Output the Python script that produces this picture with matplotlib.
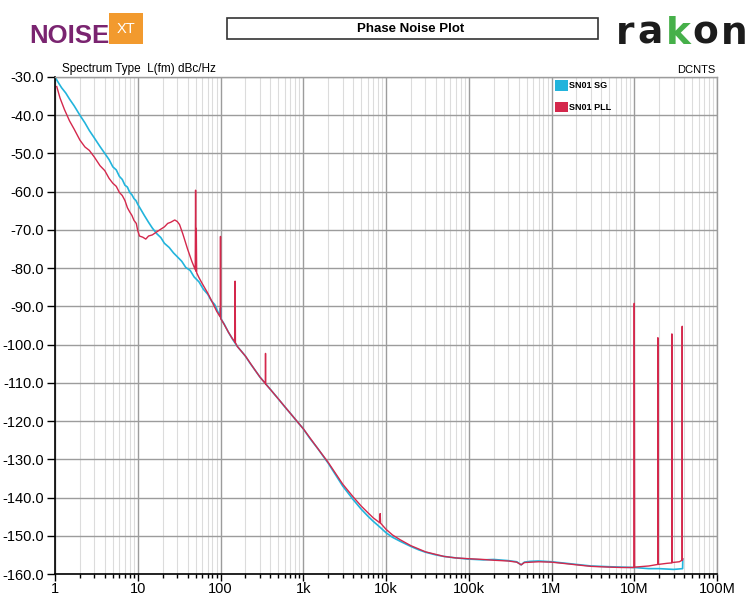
import matplotlib
matplotlib.use('Agg')
import matplotlib.pyplot as plt
from matplotlib.patches import Patch, Rectangle
from matplotlib.ticker import FixedLocator, FixedFormatter, LogLocator, NullFormatter

plt.rcParams['font.family'] = ['Liberation Sans', 'DejaVu Sans']

# ---------------- data ----------------
series_names = ['SN01 SG', 'SN01 PLL']

sg_freq = [1, 1.1, 1.2, 1.35, 1.5, 1.7, 2, 2.3, 2.6, 3, 3.5, 4, 4.5, 5, 5.5, 6, 6.5, 7, 7.5, 8,
           8.5, 9, 9.5, 10, 11, 12, 13.5, 15, 17, 19, 21, 24, 27, 30, 34, 38, 43, 48, 55, 62,
           70, 78, 85, 92, 99, 100, 101, 110, 125, 140, 160, 180, 200, 230, 260, 300, 350, 400,
           500, 600, 700, 850, 1000, 1200, 1500, 2000, 2500, 3000, 4000, 5000, 6000, 7000,
           8500, 10000, 12000, 15000, 20000, 25000, 30000, 40000, 50000, 70000, 100000,
           150000, 200000, 300000, 380000, 430000, 470000, 550000, 700000, 1e6, 1.5e6, 2e6,
           3e6, 5e6, 7e6, 1e7, 1.5e7, 2e7, 3e7, 3.84e7, 3.86e7]
sg_dbc = [-30, -31.5, -32.8, -34.2, -35.8, -37.5, -40, -42, -44, -46, -48.2, -50, -51.6, -53.5,
          -54.3, -56, -56.8, -58.3, -58.8, -60.2, -60.8, -61.8, -62.3, -63.3, -64.8, -66.2, -68,
          -69.5, -71, -72, -73.5, -74.6, -76, -77, -78.2, -79.8, -80.6, -82.3, -83.6, -85.5,
          -86.8, -88.6, -89.5, -91.2, -92.6, -90.4, -93.2, -94.5, -96.8, -98.6, -100.5, -101.8,
          -103, -105, -106.6, -108.5, -110.2, -111.7, -114.2, -116.3, -118, -120.2, -122,
          -124.5, -127.2, -131, -134.3, -137, -140.5, -143, -144.8, -146.2, -147.8, -149.2,
          -150.4, -151.5, -152.8, -153.7, -154.3, -155, -155.4, -155.8, -156.1, -156.3, -156.2,
          -156.5, -156.8, -157.6, -156.9, -156.7, -156.6, -156.8, -157.2, -157.5, -157.9,
          -158.1, -158.2, -158.3, -158.6, -158.6, -158.8, -158.6, -156.2]

pll_freq = [1.05, 1.15, 1.3, 1.5, 1.7, 2, 2.3, 2.6, 3, 3.5, 4, 4.5, 5, 5.5, 6, 6.5, 7, 7.5, 8,
            8.5, 9, 9.6, 10, 10.5, 11.5, 12.5, 13.5, 15, 17, 19, 21, 23, 25, 28, 30, 32, 35, 40,
            45, 49.5, 50, 50.5, 51, 51.5, 55, 60, 65, 70, 80, 90, 99.5, 100, 100.5, 110, 125,
            140, 149.5, 150, 150.5, 151, 151.5, 160, 200, 260, 300, 349, 350, 351, 400, 500,
            700, 1000, 1500, 2000, 3000, 4000, 5000, 6000, 7000, 8400, 8500, 8600, 10000,
            12000, 15000, 20000, 30000, 50000, 70000, 100000, 150000, 200000, 300000, 380000,
            430000, 470000, 700000, 1e6, 1.5e6, 2e6, 3e6, 5e6, 7e6, 9.9e6, 1e7, 1.01e7, 1.5e7,
            1.92e7, 1.93e7, 1.94e7, 2.5e7, 2.84e7, 2.85e7, 2.86e7, 3.5e7, 3.79e7, 3.8e7, 3.81e7,
            3.86e7]
pll_dbc = [-32.5, -35.5, -38.5, -41.5, -43.6, -46.5, -48.3, -49.2, -51, -53.2, -54.5, -56.5,
           -57.8, -58.6, -60.2, -61, -62.3, -64.2, -65.3, -66.2, -67.5, -68.3, -70.2, -71.6,
           -71.9, -72.4, -71.6, -71.3, -70.5, -69.8, -69.2, -68.3, -68, -67.4, -67.8, -68.6,
           -71, -75, -78.2, -80.4, -59.6, -80.8, -69.6, -81.2, -82.5, -84, -85.3, -86.5, -89,
           -91.3, -92.8, -71.7, -93.2, -94.6, -96.8, -98.5, -99.3, -83.4, -99.4, -92, -99.5,
           -100.5, -103, -106.6, -108.5, -110.2, -102.3, -110.3, -111.7, -114.2, -118, -122,
           -127.2, -130.8, -136.5, -139.8, -142.2, -143.9, -145.3, -146.6, -144.2, -146.7,
           -148.3, -149.8, -151.1, -152.6, -154.2, -155.4, -155.8, -156, -156.2, -156.4,
           -156.6, -156.9, -157.6, -157, -156.8, -156.9, -157.3, -157.6, -158, -158.2, -158.3,
           -158.3, -89.2, -158.2, -157.9, -157.5, -98.2, -157.5, -157.2, -157.1, -97.2, -157.0,
           -156.8, -156.4, -95.2, -156.3, -156.0]

y_ticks = [-30, -40, -50, -60, -70, -80, -90, -100, -110, -120, -130, -140, -150, -160]
y_tick_labels = ['-30.0', '-40.0', '-50.0', '-60.0', '-70.0', '-80.0', '-90.0', '-100.0',
                 '-110.0', '-120.0', '-130.0', '-140.0', '-150.0', '-160.0']
x_ticks = [1, 10, 100, 1e3, 1e4, 1e5, 1e6, 1e7, 1e8]
x_tick_labels = ['1', '10', '100', '1k', '10k', '100k', '1M', '10M', '100M']

# ---------------- figure ----------------
W, H = 747, 597
fig = plt.figure(figsize=(W / 100, H / 100), dpi=100)
fig.patch.set_facecolor('white')

def fx(px):
    return px / W

def fy(py):
    return 1 - py / H

ax = fig.add_axes([fx(55), fy(574), fx(717) - fx(55), fy(77) - fy(574)])
ax.set_xscale('log')
ax.set_xlim(1, 1e8)
ax.set_ylim(-160, -30)

major_c = '#9c9c9c'
minor_c = '#dcdcdc'
ax.xaxis.set_major_locator(FixedLocator(x_ticks))
ax.xaxis.set_major_formatter(FixedFormatter(x_tick_labels))
ax.xaxis.set_minor_locator(LogLocator(base=10, subs=range(2, 10), numticks=20))
ax.xaxis.set_minor_formatter(NullFormatter())
ax.yaxis.set_major_locator(FixedLocator(y_ticks))
ax.yaxis.set_major_formatter(FixedFormatter(y_tick_labels))

ax.grid(True, which='major', color=major_c, lw=1.0)
ax.grid(True, which='minor', axis='x', color=minor_c, lw=0.8)
ax.set_axisbelow(True)

ax.tick_params(axis='y', which='major', direction='out', length=6, width=1, pad=2,
               labelsize=10.5, color='black')
ax.tick_params(axis='x', which='major', direction='out', length=5, width=1, pad=1,
               labelsize=10.5, color='black')
ax.tick_params(axis='x', which='minor', direction='out', length=3, width=1, color='black')

for s in ['left', 'bottom']:
    ax.spines[s].set_color('black')
    ax.spines[s].set_linewidth(1.2)
for s in ['top', 'right']:
    ax.spines[s].set_color(major_c)
    ax.spines[s].set_linewidth(1.0)

blue = '#22b4dc'
red = '#d4284c'
ax.plot(sg_freq, sg_dbc, color=blue, lw=1.2, label=series_names[0])
ax.plot(pll_freq, pll_dbc, color=red, lw=1.0, label=series_names[1])

# legend
handles = [Patch(facecolor=blue, edgecolor='none'), Patch(facecolor=red, edgecolor='none')]
fig.legend(handles, series_names, loc='upper left', bbox_to_anchor=(fx(555), fy(80)),
           frameon=False, borderpad=0, borderaxespad=0, handlelength=1.45, handleheight=1.45,
           handletextpad=0.15, labelspacing=1.2, prop={'size': 6.5, 'weight': 'bold'})

# texts above the plot
fig.text(fx(62), fy(69), 'Spectrum Type  L(fm) dBc/Hz', fontsize=8.5, ha='left', va='center')
fig.text(fx(715), fy(70), 'DCNTS', fontsize=8, ha='right', va='center')

# title box
fig.patches.append(Rectangle((fx(227), fy(39)), fx(598) - fx(227), fy(18) - fy(39),
                             transform=fig.transFigure, facecolor='white',
                             edgecolor='#333333', lw=1.2))
fig.text(fx(411), fy(28.5), 'Phase Noise Plot', fontsize=9.5, fontweight='bold',
         ha='center', va='center')

# NOISE XT logo
fig.text(fx(29), fy(43), 'NOISE', fontsize=18.5, fontweight='bold', color='#7a2470',
         ha='left', va='baseline')
fig.patches.append(Rectangle((fx(109), fy(44)), fx(143) - fx(109), fy(13) - fy(44),
                             transform=fig.transFigure, facecolor='#f29a2e', edgecolor='none'))
fig.text(fx(126), fy(29), 'XT', fontsize=10.5, color='white', ha='center', va='center')

# rakon logo
letters = ['r', 'a', 'k', 'o', 'n']
centers = [625, 650, 678, 705, 734]
cols = ['#1c1c1c', '#1c1c1c', '#46b04a', '#1c1c1c', '#1c1c1c']
for ch, cx, c in zip(letters, centers, cols):
    fig.text(fx(cx), fy(44), ch, fontsize=27, fontweight='bold', color=c,
             family=['DejaVu Sans'], ha='center', va='baseline')

fig.savefig('out.png', dpi=100)
